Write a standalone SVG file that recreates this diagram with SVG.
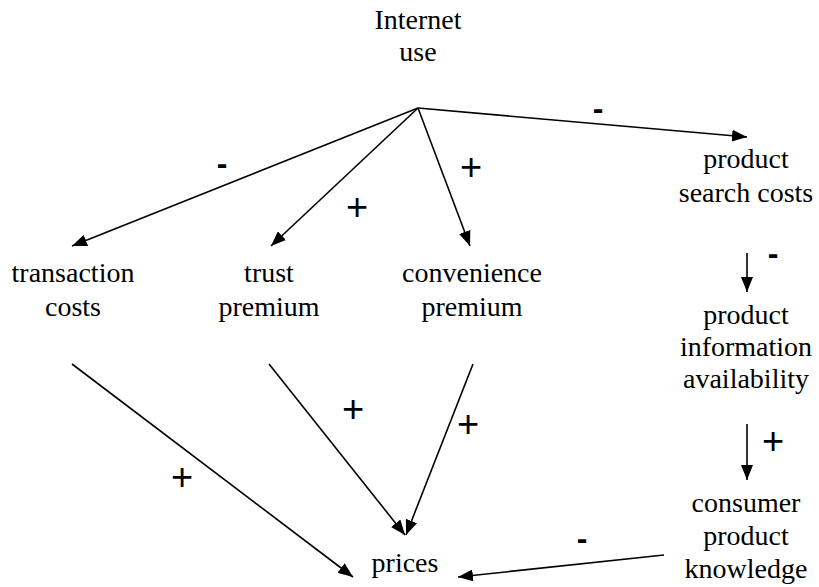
<svg xmlns="http://www.w3.org/2000/svg" width="819" height="587" viewBox="0 0 819 587">
<style>
.n{font-size:28px;fill:#000;text-anchor:middle}
.p{font-family:"Liberation Sans",Arial,sans-serif;font-size:38px;fill:#000;text-anchor:middle}
.m{font-family:"Liberation Sans",Arial,sans-serif;font-size:32px;font-weight:bold;fill:#000;text-anchor:middle}
.c{stroke:#000;stroke-width:1.6;fill:none;marker-end:url(#ah)}
</style>
<defs>
<marker id="ah" markerUnits="userSpaceOnUse" markerWidth="16" markerHeight="12" refX="15" refY="6" orient="auto">
<path d="M0,0 L15,6 L0,12 z" fill="#000"/>
</marker>
</defs>
<rect width="819" height="587" fill="#fff"/>
<g id="connectors">
<line class="c" x1="418" y1="108" x2="72" y2="246"/>
<line class="c" x1="418" y1="108" x2="271" y2="246"/>
<line class="c" x1="418" y1="108" x2="470" y2="246"/>
<line class="c" x1="418" y1="108" x2="747" y2="137"/>
<line class="c" x1="747" y1="253" x2="747" y2="292"/>
<line class="c" x1="747" y1="424" x2="747" y2="480"/>
<line class="c" x1="664" y1="555" x2="458" y2="577"/>
<line class="c" x1="72" y1="364" x2="353" y2="577"/>
<line class="c" x1="269" y1="364" x2="405" y2="535"/>
<line class="c" x1="473" y1="364" x2="406" y2="535"/>
</g>
<g id="labels">
<text class="m" x="222" y="174">-</text>
<text class="p" x="357" y="220">+</text>
<text class="p" x="471" y="180">+</text>
<text class="m" x="598" y="119">-</text>
<text class="m" x="773" y="264">-</text>
<text class="p" x="773" y="454">+</text>
<text class="m" x="582" y="549">-</text>
<text class="p" x="353" y="422">+</text>
<text class="p" x="468" y="437">+</text>
<text class="p" x="182" y="490">+</text>
</g>
<g font-family="Liberation Serif, DejaVu Serif, serif">
<g id="internet-use"><text class="n" x="418" y="29">Internet</text><text class="n" x="418" y="61">use</text></g>
<g id="transaction-costs"><text class="n" x="73" y="282">transaction</text><text class="n" x="73" y="316">costs</text></g>
<g id="trust-premium"><text class="n" x="269" y="282">trust</text><text class="n" x="269" y="316">premium</text></g>
<g id="convenience-premium"><text class="n" x="472" y="282">convenience</text><text class="n" x="472" y="316">premium</text></g>
<g id="product-search-costs"><text class="n" x="746" y="168">product</text><text class="n" x="746" y="202">search costs</text></g>
<g id="product-information-availability"><text class="n" x="746" y="324">product</text><text class="n" x="746" y="356">information</text><text class="n" x="746" y="388">availability</text></g>
<g id="consumer-product-knowledge"><text class="n" x="746" y="512">consumer</text><text class="n" x="746" y="545">product</text><text class="n" x="746" y="578">knowledge</text></g>
<g id="prices"><text class="n" x="405" y="572">prices</text></g>
</g>
</svg>
